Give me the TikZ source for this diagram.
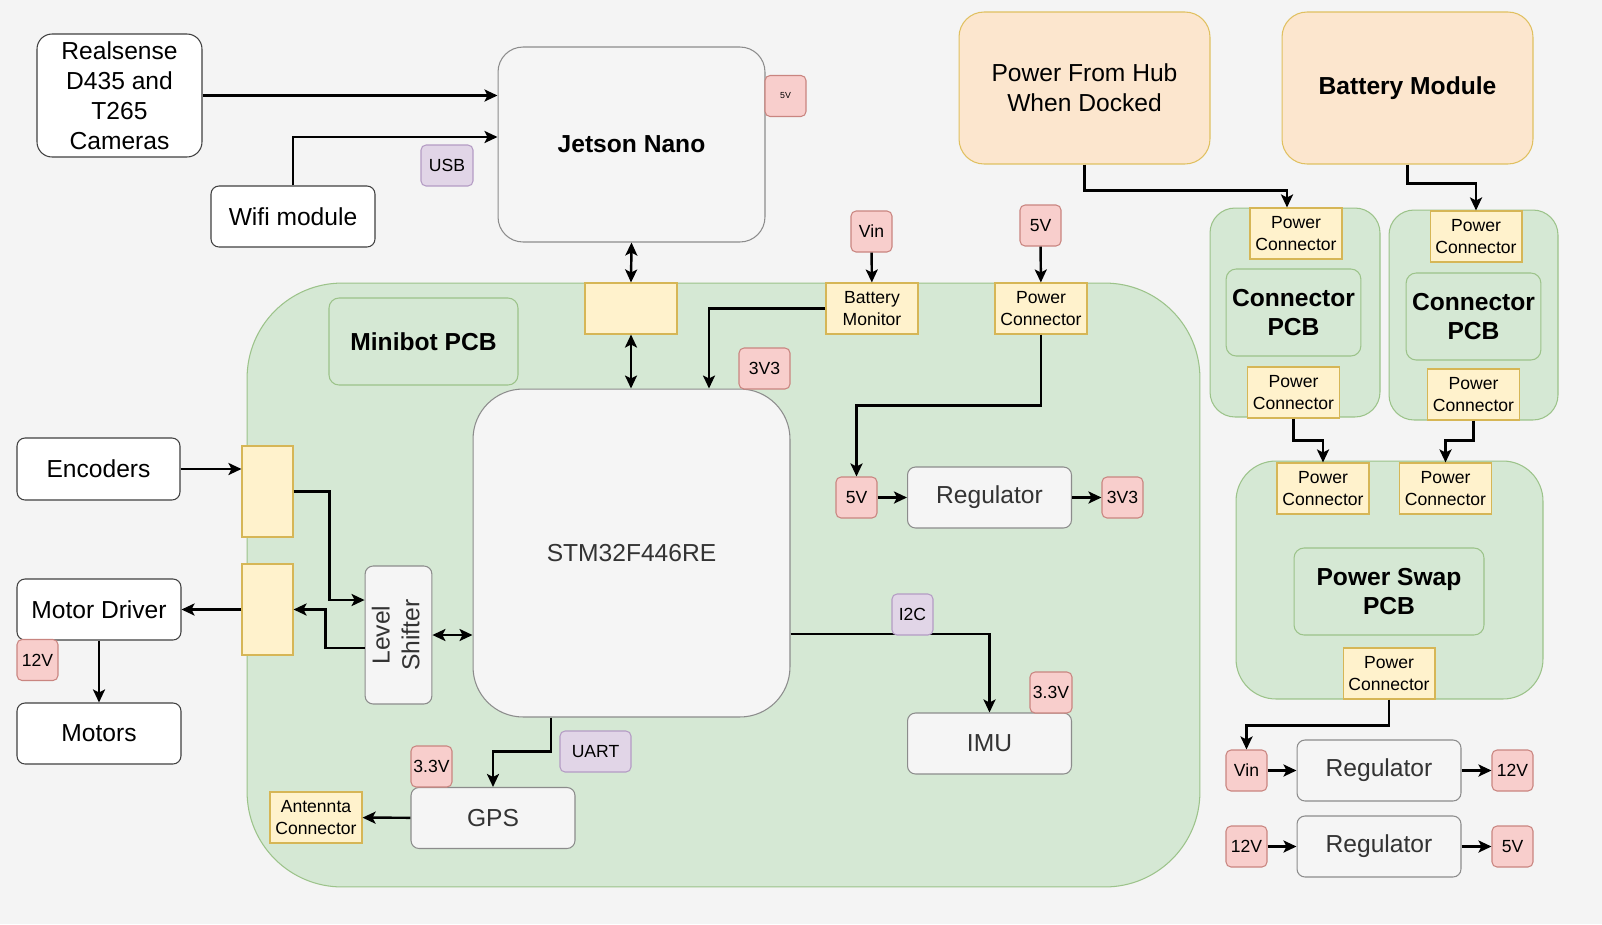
\documentclass[tikz,border=0pt]{standalone}
\usepackage{fontspec}
\setmainfont{Liberation Sans}
\usetikzlibrary{arrows.meta, positioning, calc}

\definecolor{bgcol}{HTML}{F4F4F4}
\definecolor{pcbfill}{HTML}{D5E8D4}
\definecolor{pcbline}{HTML}{9CC38A}
\definecolor{connfill}{HTML}{FFF2CC}
\definecolor{connline}{HTML}{D6B656}
\definecolor{tagfill}{HTML}{F8CECC}
\definecolor{tagline}{HTML}{C98580}
\definecolor{busfill}{HTML}{E1D5E7}
\definecolor{busline}{HTML}{B49CC4}
\definecolor{srcfill}{HTML}{FCE6CE}
\definecolor{srcline}{HTML}{E0C060}
\definecolor{chipfill}{HTML}{F5F5F5}
\definecolor{chipline}{HTML}{8C8C8C}
\definecolor{chiptext}{HTML}{333333}

\begin{document}
\begin{tikzpicture}[
    x=0.02cm, y=-0.02cm,
    font=\fontsize{14}{17}\selectfont,
    box/.style = {
        rectangle, draw=black!75, fill=white, text=black,
        rounded corners=0.16cm, minimum width=3.28cm, minimum height=1.22cm,
        align=center, line width=0.6pt, inner sep=2pt
    },
    chip/.style = {
        box, draw=chipline, fill=chipfill, text=chiptext
    },
    pcb/.style = {
        rectangle, draw=pcbline, fill=pcbfill, rounded corners=0.5cm,
        line width=0.6pt
    },
    title/.style = {
        pcb, rounded corners=0.2cm, minimum width=2.66cm, minimum height=1.74cm,
        align=center, font=\fontsize{14}{17}\selectfont\bfseries
    },
    conn/.style = {
        rectangle, draw=connline, fill=connfill, minimum width=1.84cm,
        minimum height=1.02cm, align=center, inner sep=1pt, line width=0.6pt,
        font=\fontsize{10}{12.5}\selectfont
    },
    tag/.style = {
        rectangle, draw=tagline, fill=tagfill, rounded corners=0.1cm,
        minimum width=0.82cm, minimum height=0.82cm, inner sep=1pt,
        line width=0.6pt, font=\fontsize{10}{12}\selectfont
    },
    bus/.style = {tag, draw=busline, fill=busfill},
    source/.style = {
        rectangle, draw=srcline, fill=srcfill, rounded corners=0.5cm,
        minimum width=5.02cm, minimum height=3.04cm, align=center,
        line width=0.6pt
    },
    arr/.style = {-{Stealth[length=0.26cm, width=0.24cm, inset=0.06cm]},
        line width=1.4pt},
    darr/.style = {{Stealth[length=0.26cm, width=0.24cm, inset=0.06cm]}-{Stealth[length=0.26cm, width=0.24cm, inset=0.06cm]},
        line width=1.4pt},
]

\useasboundingbox (0,0) rectangle (1602,924);
\fill[bgcol] (0,0) rectangle (1602,924);

% Host side
\node[box, minimum width=3.3cm, minimum height=2.46cm, rounded corners=0.3cm] (cam) at (119.5,95.5)
    {Realsense\\D435 and\\T265\\Cameras};
\node[box] (wifi) at (293,216.5) {Wifi module};
\node[chip, minimum width=5.34cm, minimum height=3.9cm, rounded corners=0.5cm,
    text=black, font=\fontsize{14}{17}\selectfont\bfseries] (jetson) at (631.5,144.5) {Jetson Nano};
\node[tag, font=\fontsize{5}{6}\selectfont] (jet5v) at (785.5,96) {5V};
\node[bus, minimum width=1.04cm] (usb) at (447,165.5) {USB};

% Minibot PCB
\node[pcb, minimum width=19.06cm, minimum height=12.08cm, rounded corners=1.9cm] (minibot) at (723.5,585) {};
\node[title, minimum width=3.78cm] (minilbl) at (423.5,341.5) {Minibot PCB};
\node[conn] (jcon) at (631,308.5) {};
\node[chip, minimum width=6.34cm, minimum height=6.56cm, rounded corners=1cm] (stm) at (631.5,553) {STM32F446RE};
\node[tag, minimum width=1.02cm] (stm3v3) at (764.5,368.5) {3V3};
\node[conn] (batmon) at (872,308.5) {Battery\\Monitor};
\node[tag] (vin) at (871.5,231.5) {Vin};
\node[conn] (pcon) at (1041,308.5) {Power\\Connector};
\node[tag] (in5v) at (1040.5,225.5) {5V};
\node[tag] (reg5v) at (856.5,497.5) {5V};
\node[chip] (reg) at (989.5,497.5) {Regulator};
\node[tag] (reg3v3) at (1122.5,497.5) {3V3};
\node[chip] (imu) at (989.5,743.5) {IMU};
\node[tag, minimum width=0.84cm] (imu3v3) at (1051,692.5) {3.3V};
\node[chip] (gps) at (493,818) {GPS};
\node[tag] (gps3v3) at (431.5,766.5) {3.3V};
\node[bus, minimum width=1.42cm] (uart) at (595.5,751.5) {UART};
\node[conn] (ant) at (316,817.5) {Antennta\\Connector};
\node[chip, minimum width=1.22cm, minimum height=2.76cm] (shift) at (398.5,635)
    {\rotatebox{90}{\begin{tabular}{@{}c@{}}Level\\Shifter\end{tabular}}};
\node[conn, minimum width=1.02cm, minimum height=1.82cm] (enccon) at (267.5,491.5) {};
\node[conn, minimum width=1.02cm, minimum height=1.82cm] (motcon) at (267.5,609.5) {};

% Motors side
\node[box, minimum width=3.26cm, minimum height=1.24cm] (enc) at (98.5,469) {Encoders};
\node[box] (mdrv) at (99,609.5) {Motor Driver};
\node[tag] (mot12v) at (37.5,660) {12V};
\node[box] (motors) at (99,733.5) {Motors};

% Power side
\node[source] (hub) at (1084.5,88) {Power From Hub\\When Docked};
\node[source, font=\fontsize{14}{17}\selectfont\bfseries] (batt) at (1407.5,88) {Battery Module};
\node[pcb, minimum width=3.4cm, minimum height=4.18cm] (cpcbA) at (1295,312.5) {};
\node[conn] (pcAtop) at (1296,233.5) {Power\\Connector};
\node[title] (cpcbAlbl) at (1293.5,312.5) {Connector\\PCB};
\node[conn] (pcAbot) at (1293.5,392.5) {Power\\Connector};
\node[pcb, minimum width=3.38cm, minimum height=4.2cm] (cpcbB) at (1473.5,315) {};
\node[conn] (pcBtop) at (1476,236.5) {Power\\Connector};
\node[title] (cpcbBlbl) at (1473.5,316.5) {Connector\\PCB};
\node[conn] (pcBbot) at (1473.5,394.5) {Power\\Connector};
\node[pcb, minimum width=6.14cm, minimum height=4.76cm, rounded corners=0.8cm] (swap) at (1389.5,580) {};
\node[conn] (swapA) at (1323,488.5) {Power\\Connector};
\node[conn] (swapB) at (1445.5,488.5) {Power\\Connector};
\node[title, minimum width=3.8cm] (swaplbl) at (1389,591.5) {Power Swap\\PCB};
\node[conn] (swapout) at (1389,673.5) {Power\\Connector};
\node[tag] (vinR) at (1246.5,770.5) {Vin};
\node[chip] (regA) at (1379,770.5) {Regulator};
\node[tag] (outA) at (1512.5,770.5) {12V};
\node[tag] (inB) at (1246.5,846.5) {12V};
\node[chip] (regB) at (1379,846.5) {Regulator};
\node[tag] (outB) at (1512.5,846.5) {5V};

% Arrows
\draw[arr] (cam.east) -- (cam.east -| jetson.west);
\draw[arr] (wifi.north) |- (jetson.west |- 0,137);
\draw[darr] (jetson.south) -- (jcon.north);
\draw[darr] (jcon.south) -- (jcon.south |- stm.north);
\draw[arr] (batmon.west) -| (709,0 |- stm.north);
\draw[arr] (vin) -- (batmon);
\draw[arr] (in5v) -- (pcon);
\draw[arr] (pcon.south) -- ++(0,71) -| (reg5v.north);
\draw[arr] (reg5v) -- (reg);
\draw[arr] (reg) -- (reg3v3);
\draw[arr] (stm.east |- 0,634) -| (imu.north);
\node[bus] (i2c) at (912.5,614.5) {I2C};
\draw[arr] (551,0 |- stm.south) -- ++(0,34) -| (gps.north);
\draw[arr] (gps) -- (ant);
\draw[darr] (shift.east) -- (shift.east -| stm.west);
\draw[arr] (enc.east) -- (enc.east -| enccon.west);
\draw[arr] (enccon.east) -- ++(36,0) |- (shift.west |- 0,600);
\draw[arr] (shift.west |- 0,648) -- ++(-39,0) |- (motcon.east);
\draw[arr] (motcon.west) -- (mdrv.east);
\draw[arr] (mdrv.south) -- (motors.north);

\draw[arr] (hub.south) -- ++(0,26) -| ($(pcAtop.north)+(-9,0)$);
\draw[arr] (batt.south) -- ++(0,19) -| (pcBtop.north);
\draw[arr] (pcAbot.south) -- ++(0,22) -| (swapA.north);
\draw[arr] (pcBbot.south) -- ++(0,20) -| (swapB.north);
\draw[arr] (swapout.south) -- ++(0,26) -| (vinR.north);
\draw[arr] (vinR) -- (regA);
\draw[arr] (regA) -- (outA);
\draw[arr] (inB) -- (regB);
\draw[arr] (regB) -- (outB);

\end{tikzpicture}
\end{document}
